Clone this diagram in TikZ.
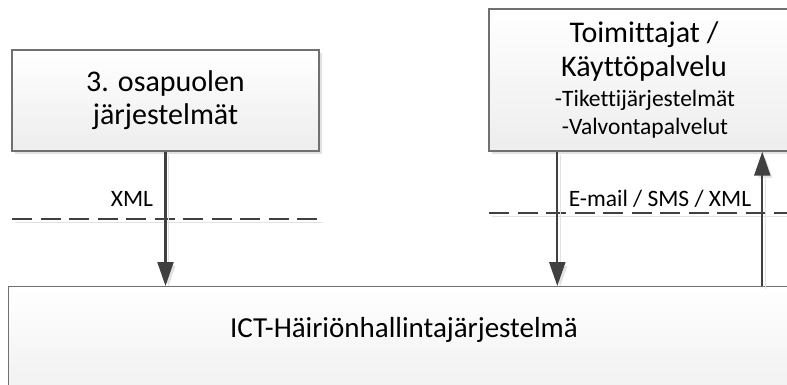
\documentclass[tikz,border=0pt]{standalone}
\usepackage{fontspec}
\setmainfont{Carlito}[Ligatures=NoCommon]
\usetikzlibrary{arrows.meta,shadows,positioning}
\definecolor{ink}{HTML}{404040}
\definecolor{edge}{HTML}{707070}
\definecolor{shade}{HTML}{E2E2E2}
\tikzset{
  sysbox/.style={draw=edge, line width=1.4pt, top color=white, bottom color=black!7,
    shading angle=0, align=center, inner sep=0pt,
    drop shadow={shadow xshift=3pt, shadow yshift=-3pt, fill=shade, opacity=1}},
  flow/.style={draw=ink, line width=2.3pt, -{Triangle[length=24pt,width=16pt]},
    preaction={draw=shade, transform canvas={shift={(3pt,-3pt)}}}},
  border/.style={draw=ink, line width=2.3pt, dash pattern=on 20pt off 8.5pt,
    preaction={draw=shade, transform canvas={shift={(3pt,-3pt)}}}},
  tag/.style={font=\fontsize{23.5}{26}\selectfont, text=black, inner sep=0pt, anchor=base},
}
\begin{document}
\begin{tikzpicture}[x=1pt, y=-1pt]
  \useasboundingbox (0,0) rectangle (787,385);
  \clip (0,0) rectangle (787,385);

  % systems
  \node[sysbox, minimum width=307pt, minimum height=101pt] (third) at (165.5,100.5) {};
  \node[font=\fontsize{30}{33}\selectfont, align=center, anchor=base, inner sep=0pt]
        (thirdlabel) at (165.5,125) {3. osapuolen\\järjestelmät};
  \node[sysbox, minimum width=312pt, minimum height=142pt] (supp) at (645,80) {};
  % multi-line nodes sit on the baseline of their last line
  \node[font=\fontsize{30}{34}\selectfont, align=center, anchor=base, inner sep=0pt]
        (supptitle) at (644,77) {Toimittajat /\\Käyttöpalvelu};
  \node[font=\fontsize{23.5}{28}\selectfont, align=center, anchor=base, inner sep=0pt]
        (supplist) at (645,135) {-Tikettijärjestelmät\\-Valvontapalvelut};
  \node[sysbox, minimum width=792pt, minimum height=130pt, anchor=north west] (ict) at (8,286) {};
  \node[font=\fontsize{29}{32}\selectfont, inner sep=0pt] (ictlabel) at (404,330)
        {ICT-Häiriönhallintajärjestelmä};

  % boundary lines
  \coordinate (bl1) at (12,219);
  \coordinate (bl2) at (320,219);
  \coordinate (br1) at (489,213);
  \coordinate (br2) at (795,213);
  \draw[border] (bl1) -- (bl2);
  \draw[border] (br1) -- (br2);

  % message flows
  \coordinate (mid) at ([xshift=69pt]supp.south west);
  \coordinate (back) at ([xshift=274pt]supp.south west);
  \draw[flow] (third.south) -- (third.south |- ict.north);
  \draw[flow] (mid) -- (mid |- ict.north);
  \draw[flow] (back |- ict.north) -- (back);

  % flow labels
  \node[tag] (xml) at (132,206.5) {XML};
  \node[tag] (msg) at (660,206.5) {E-mail / SMS / XML};
\end{tikzpicture}
\end{document}
